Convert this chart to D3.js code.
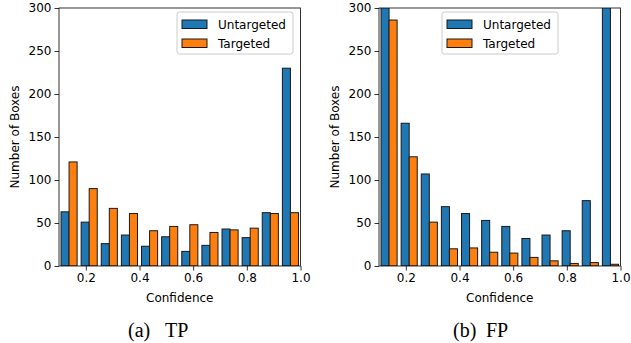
<!DOCTYPE html>
<html>
<head>
<meta charset="utf-8">
<script src="https://cdn.jsdelivr.net/npm/d3@7"></script>
<style>
  body { margin: 0; background: #fff; }
  text { font-family: "DejaVu Sans", sans-serif; fill: #000; }
</style>
</head>
<body>
<script>
// Histogram bins (12 bins from 0.1 to 1.0)
const binEdges = [0.1, 0.175, 0.25, 0.325, 0.4, 0.475, 0.55, 0.625, 0.7, 0.775, 0.85, 0.925, 1.0];
const seriesNames = ['Untargeted', 'Targeted'];

// Panel (a) TP
const tpUntargeted = [63, 51, 26, 36, 23, 34, 17, 24, 43, 33, 62, 230];
const tpTargeted = [121, 90, 67, 61, 41, 46, 48, 39, 42, 44, 61, 62];

// Panel (b) FP (first and last untargeted bars go beyond the axis)
const fpUntargeted = [420, 166, 107, 69, 61, 53, 46, 32, 36, 41, 76, 520];
const fpTargeted = [286, 127, 51, 20, 21, 16, 15, 10, 6, 3, 4, 2];

const xTicks = [0.2, 0.4, 0.6, 0.8, 1.0];
const yTicks = [0, 50, 100, 150, 200, 250, 300];
const colors = ['#1f77b4', '#ff7f0e'];

const svg = d3.select('body').append('svg')
  .attr('width', 631).attr('height', 343);

const drawPanel = (opts) => {
  const {left, right, top, bottom, series, capLabel, capName, capX, nameX, legendX} = opts;

  const x = d3.scaleLinear().domain([0.1, 1.0]).range([left, right]);
  const y = d3.scaleLinear().domain([0, 300]).range([bottom, top]);

  const clipId = 'clip-' + capName;
  svg.append('clipPath').attr('id', clipId)
    .append('rect')
    .attr('x', left).attr('y', top)
    .attr('width', right - left).attr('height', bottom - top);

  // bars
  const g = svg.append('g').attr('clip-path', `url(#${clipId})`);
  series.forEach((vals, si) => {
    g.selectAll(null)
      .data(vals)
      .enter()
      .append('rect')
      .attr('x', (d, i) => {
        const x0 = x(binEdges[i]), x1 = x(binEdges[i + 1]);
        const w = x1 - x0;
        return x0 + w * 0.1 + si * w * 0.4;
      })
      .attr('width', (d, i) => (x(binEdges[i + 1]) - x(binEdges[i])) * 0.4)
      .attr('y', d => y(d))
      .attr('height', d => bottom - y(d))
      .attr('fill', colors[si])
      .attr('stroke', '#1a1a1a')
      .attr('stroke-width', 1);
  });

  // axes
  const xAxis = svg.append('g')
    .attr('transform', `translate(0,${bottom})`)
    .call(d3.axisBottom(x).tickValues(xTicks).tickFormat(d3.format('.1f')).tickSizeOuter(0).tickSize(4.5).tickPadding(3));
  const yAxis = svg.append('g')
    .attr('transform', `translate(${left},0)`)
    .call(d3.axisLeft(y).tickValues(yTicks).tickSizeOuter(0).tickSize(4.5).tickPadding(3));
  [xAxis, yAxis].forEach(a => {
    a.select('.domain').remove();
    a.selectAll('text').style('font-size', '12px').style('font-family', '"DejaVu Sans", sans-serif');
    a.selectAll('line').attr('stroke', '#000').attr('stroke-width', 0.8);
  });

  // frame
  svg.append('rect')
    .attr('x', left).attr('y', top)
    .attr('width', right - left).attr('height', bottom - top)
    .attr('fill', 'none').attr('stroke', '#000').attr('stroke-width', 0.8);

  // labels
  svg.append('text')
    .attr('x', (left + right) / 2).attr('y', 302)
    .attr('text-anchor', 'middle').style('font-size', '12px')
    .text('Confidence');
  svg.append('text')
    .attr('transform', `translate(${left - 40},${(top + bottom) / 2}) rotate(-90)`)
    .attr('text-anchor', 'middle').style('font-size', '12px')
    .text('Number of Boxes');

  // sub-caption
  const cap = svg.append('text')
    .attr('y', 337)
    .style('font-family', '"Liberation Serif", "DejaVu Serif", serif')
    .style('font-size', '20px');
  cap.append('tspan').attr('x', capX).text(capLabel);
  cap.append('tspan').attr('x', nameX).text(capName);

  // legend
  const lg = svg.append('g').attr('transform', `translate(${legendX},12)`);
  lg.append('rect')
    .attr('x', 0).attr('y', 0).attr('width', 116).attr('height', 42)
    .attr('rx', 2.5).attr('fill', '#fff').attr('fill-opacity', 0.8)
    .attr('stroke', '#ccc').attr('stroke-width', 1);
  seriesNames.forEach((name, i) => {
    lg.append('rect')
      .attr('x', 5).attr('y', 8 + i * 19)
      .attr('width', 25).attr('height', 8.5)
      .attr('fill', colors[i]).attr('stroke', '#1a1a1a').attr('stroke-width', 1);
    lg.append('text')
      .attr('x', 41).attr('y', 12.5 + i * 19)
      .attr('dy', '0.35em')
      .style('font-size', '12px')
      .text(name);
  });
};

drawPanel({left: 59, right: 300.5, top: 8, bottom: 266,
  series: [tpUntargeted, tpTargeted], capLabel: '(a)', capName: 'TP',
  capX: 128, nameX: 165, legendX: 177});
drawPanel({left: 379, right: 620.5, top: 8, bottom: 266,
  series: [fpUntargeted, fpTargeted], capLabel: '(b)', capName: 'FP',
  capX: 453, nameX: 486, legendX: 442});
</script>
</body>
</html>
